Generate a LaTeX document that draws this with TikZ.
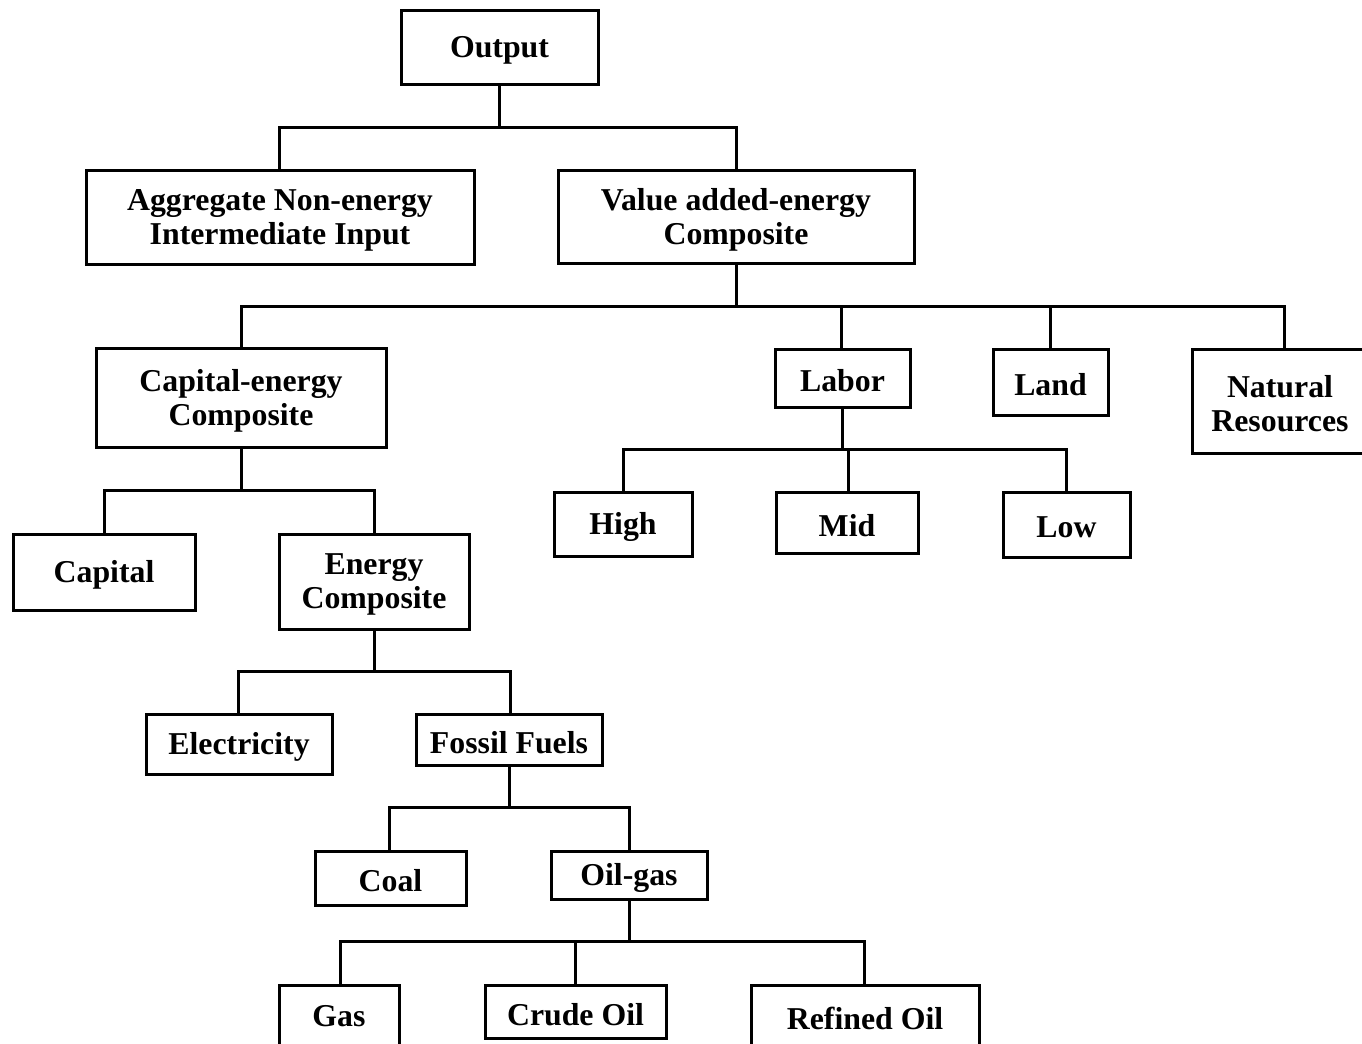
\documentclass[tikz,border=0pt]{standalone}
\usepackage{fontspec}
\setmainfont{Liberation Serif}
\usetikzlibrary{fit}
\begin{document}
\begin{tikzpicture}[x=0.5pt,y=-0.5pt,
  box/.style={draw=black,line width=1.5pt,inner sep=0pt},
  lbl/.style={inner sep=0pt,align=center,yshift=-1.5pt,
    font=\fontsize{15.9}{17}\selectfont\bfseries},
  conn/.style={draw=black,line width=1.5pt}]
\useasboundingbox (0,0) rectangle (1362,1044);
\newcommand\bx[6]{\node[box,fit={(#2,#3) (#4,#5)}] (#1) {};
  \node[lbl] (#1-t) at (#1.center) {#6};}
\bx{out}{401}{10}{598}{84}{Output}
\bx{agg}{86}{170}{474}{264}{Aggregate Non-energy\\Intermediate Input}
\bx{va}{558}{170}{914}{263}{Value added-energy\\Composite}
\bx{ce}{96}{348}{386}{447}{Capital-energy\\Composite}
\bx{lab}{775}{349}{910}{407}{Labor}
\bx{land}{993}{349}{1108}{415}{Land}
\bx{nr}{1192}{349}{1368}{453}{Natural\\Resources}
\bx{high}{554}{492}{692}{556}{High}
\bx{mid}{776}{492}{918}{553}{Mid}
\bx{low}{1003}{492}{1130}{557}{Low}
\bx{cap}{13}{534}{195}{610}{Capital}
\bx{ec}{279}{534}{469}{629}{Energy\\Composite}
\bx{el}{146}{714}{332}{774}{Electricity}
\bx{ff}{416}{714}{602}{765}{Fossil Fuels}
\bx{coal}{315}{851}{466}{905}{Coal}
\bx{og}{551}{851}{707}{899}{Oil-gas}
\node[box,fit={(279,985) (399,1052)}] (gas) {};
\node[lbl] (gas-t) at (339,1013) {Gas};
\bx{co}{485}{985}{666}{1038}{Crude Oil}
\node[box,fit={(751,985) (979,1052)}] (ro) {};
\node[lbl] (ro-t) at (865,1015) {Refined Oil};
\newcommand\tree[4]{\draw[conn] (#1.south) -- (#1.south |- 0,#2) -| (#4.north -| #3,0);}
\tree{out}{127}{279}{agg}
\tree{out}{127}{736}{va}
\tree{va}{306}{241}{ce}
\tree{va}{306}{841}{lab}
\tree{va}{306}{1050}{land}
\tree{va}{306}{1284}{nr}
\tree{lab}{449}{623}{high}
\tree{lab}{449}{848}{mid}
\tree{lab}{449}{1066}{low}
\tree{ce}{490}{104}{cap}
\tree{ce}{490}{374}{ec}
\tree{ec}{671}{238}{el}
\tree{ec}{671}{510}{ff}
\tree{ff}{807}{389}{coal}
\tree{ff}{807}{629}{og}
\tree{og}{941}{340}{gas}
\tree{og}{941}{575}{co}
\tree{og}{941}{864}{ro}
\end{tikzpicture}
\end{document}
